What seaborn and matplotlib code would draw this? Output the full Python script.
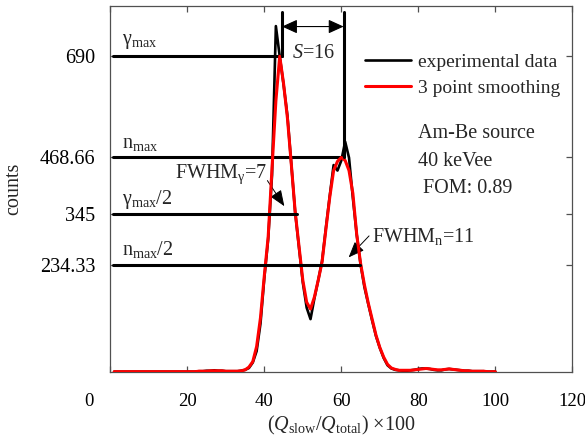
import numpy as np
import pandas as pd
import matplotlib
matplotlib.use("Agg")
import matplotlib.pyplot as plt
from matplotlib.transforms import ScaledTranslation
import seaborn as sns

# PSD ratio channel, (Q_slow / Q_total) x 100
channel = list(range(1, 101))

# raw pulse-shape histogram
experimental = [
    0, 0, 0, 0, 0, 0, 0, 0, 0, 0, 0, 0, 0, 0, 0, 0, 0, 0, 0, 0, 0, 0,
    1, 1, 2, 2, 3, 2, 2, 1, 1, 1, 1, 2, 4, 8, 20, 45, 105, 205,
    290, 430, 756, 690, 628, 560, 455, 350, 272, 195,
    140, 115, 160, 200, 242, 315, 385, 452, 440, 462,
    503, 468, 380, 300, 235, 185, 148, 112, 78, 52,
    30, 14, 7, 4, 3, 2, 2, 3, 4, 6,
    7, 7, 6, 4, 3, 3, 5, 6, 5, 4,
    3, 2, 2, 1, 1, 1, 1, 0, 0, 0,
]

# three-point smoothed histogram
smoothed = [
    0, 0, 0, 0, 0, 0, 0, 0, 0, 0, 0, 0, 0, 0, 0, 0, 0, 0, 0, 0, 0, 0,
    1, 1, 1, 2, 2, 2, 2, 1, 1, 1, 1, 2, 4, 10, 22, 55, 118, 210,
    295, 445, 592, 690, 630, 555, 455, 351, 275, 200,
    152, 137, 163, 200, 240, 312, 382, 440, 460, 468.66,
    462, 440, 390, 300, 237, 190, 150, 115, 80, 53,
    32, 16, 8, 5, 3, 3, 3, 3, 4, 5,
    6, 7, 6, 5, 4, 4, 5, 6, 5, 4,
    3, 2, 2, 1, 1, 1, 1, 0, 0, 0,
]

x_ticks = [0, 20, 40, 60, 80, 100, 120]
gamma_pos = 44.6      # gamma peak position
separation = 16       # S, distance between peak centroids
fwhm_gamma = 7
fwhm_neutron = 11
info_lines = ["Am-Be source", "40 keVee", " FOM: 0.89"]

sns.set_theme(style="ticks")
plt.rcParams["font.family"] = ["Liberation Serif", "DejaVu Serif"]
plt.rcParams["mathtext.fontset"] = "custom"
plt.rcParams["mathtext.rm"] = "Liberation Serif"
plt.rcParams["mathtext.it"] = "Liberation Serif:italic"
plt.rcParams["mathtext.bf"] = "Liberation Serif:bold"

df = pd.DataFrame({"x": channel, "exp": experimental, "smooth": smoothed})
gamma_max = df["smooth"].max()
neutron_max = df.loc[df["x"] > 52, "smooth"].max()
neutron_pos = gamma_pos + separation

fig = plt.figure(figsize=(5.85, 4.43), dpi=100, facecolor="white")
ax = fig.add_axes([0.1886, 0.161, 0.7897, 0.8255])

sns.lineplot(data=df, x="x", y="exp", color="black", linewidth=1.9,
             label="experimental data", ax=ax, zorder=3)
sns.lineplot(data=df, x="x", y="smooth", color="#ff0000", linewidth=2.2,
             label="3 point smoothing", ax=ax, zorder=4)

ax.set_xlim(0, 120)
ax.set_ylim(0, 800)

# reference levels: maxima and half maxima
lw_ref = 2.2
ax.plot([0.6, gamma_pos], [gamma_max, gamma_max], color="black", lw=lw_ref, zorder=2)
ax.plot([0.6, neutron_pos], [neutron_max, neutron_max], color="black", lw=lw_ref, zorder=2)
ax.plot([0.6, 48.6], [gamma_max / 2, gamma_max / 2], color="black", lw=lw_ref, zorder=5)
ax.plot([0.6, 64.8], [neutron_max / 2, neutron_max / 2], color="black", lw=lw_ref, zorder=5)
ax.plot([gamma_pos, gamma_pos], [gamma_max, 786], color="black", lw=lw_ref, zorder=5)
ax.plot([neutron_pos, neutron_pos], [neutron_max, 786], color="black", lw=lw_ref, zorder=5)

fs = 14.5
ax.text(3, gamma_max + 12, r"γ$_\mathrm{max}$", fontsize=fs, va="bottom", ha="left")
ax.text(3, neutron_max + 10, r"n$_\mathrm{max}$", fontsize=fs, va="bottom", ha="left")
ax.text(3, gamma_max / 2 + 7, r"γ$_\mathrm{max}$/2", fontsize=fs, va="bottom", ha="left")
ax.text(3, neutron_max / 2 + 10, r"n$_\mathrm{max}$/2", fontsize=fs, va="bottom", ha="left")

# peak separation
ax.annotate("", xy=(gamma_pos, 755), xytext=(neutron_pos, 755),
            arrowprops=dict(arrowstyle="<|-|>,head_length=0.55,head_width=0.25",
                            color="black", lw=0.8, mutation_scale=17,
                            shrinkA=0, shrinkB=0))
ax.text(47.1, 686, rf"$S$={separation}", fontsize=fs, va="baseline", ha="left")

# FWHM annotations
head = "-|>,head_length=0.7,head_width=0.28"
ax.annotate("", xy=(45.2, 362), xytext=(40.8, 418),
            arrowprops=dict(arrowstyle=head, color="black", lw=0.7,
                            mutation_scale=14, shrinkA=0, shrinkB=0))
ax.text(16.8, 424, rf"FWHM$_\mathrm{{γ}}$={fwhm_gamma}", fontsize=fs,
        va="baseline", ha="left")
ax.annotate("", xy=(61.9, 250), xytext=(67.2, 297),
            arrowprops=dict(arrowstyle=head, color="black", lw=0.7,
                            mutation_scale=14, shrinkA=0, shrinkB=0))
ax.text(67.9, 284, rf"FWHM$_\mathrm{{n}}$={fwhm_neutron}", fontsize=fs,
        va="baseline", ha="left")

for i, line in enumerate(info_lines):
    ax.text(79.8, 511 - i * 60.5, line, fontsize=fs, va="baseline", ha="left")

leg = ax.legend(loc="upper left", bbox_to_anchor=(0.551, 0.871), frameon=False,
                fontsize=14, handlelength=2.35, handletextpad=0.4,
                labelspacing=0.45, borderpad=0, borderaxespad=0)

# axes styling
spine_color = "#505050"
for s in ax.spines.values():
    s.set_color(spine_color)
    s.set_linewidth(0.9)
    s.set_visible(True)

y_ticks = [neutron_max / 2, gamma_max / 2, neutron_max, gamma_max]
ax.set_yticks(y_ticks)
ax.set_yticklabels([f"{v:.2f}".rstrip("0").rstrip(".") for v in y_ticks])
ax.set_xticks(x_ticks)
ax.set_xticklabels([str(v) for v in x_ticks])
ax.tick_params(axis="both", direction="in", top=True, right=True, length=4,
               width=0.9, color=spine_color, labelcolor="black")
ax.tick_params(axis="y", labelsize=14.5, pad=11)
ax.tick_params(axis="x", labelsize=13.5, pad=15)

ax.set_xlabel(r"($Q_\mathrm{slow}$/$Q_\mathrm{total}$) ×100", fontsize=14.5, labelpad=3)
ax.set_ylabel("counts", fontsize=14.5, labelpad=12)

# keep the origin label clear of the y axis
zero_label = ax.xaxis.get_major_ticks()[0].label1
zero_label.set_transform(zero_label.get_transform()
                         + ScaledTranslation(-0.21, 0, fig.dpi_scale_trans))

fig.savefig("out.png", dpi=100, facecolor="white")
